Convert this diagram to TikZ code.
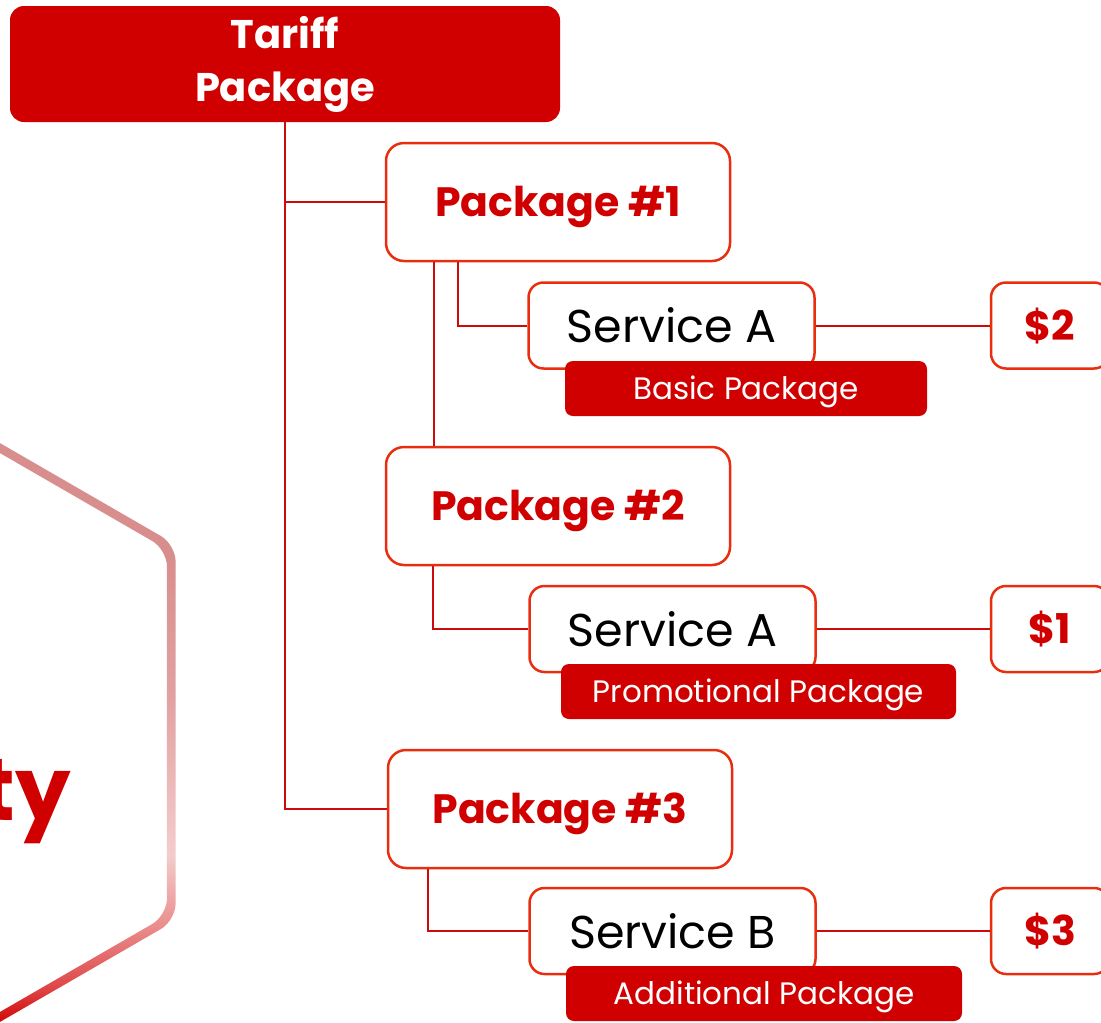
\documentclass[tikz,border=0pt]{standalone}
\usepackage{fontspec}
\setmainfont{Poppins}
\usetikzlibrary{positioning, shapes.geometric}

\definecolor{tarred}{RGB}{208,0,0}
\definecolor{edgered}{RGB}{232,46,14}
\definecolor{linkred}{RGB}{204,12,12}
% colours of the hexagon outline, bottom to top
\definecolor{hexC}{RGB}{208,0,0}
\definecolor{hexD}{RGB}{222,70,70}
\definecolor{hexE}{RGB}{234,140,140}
\definecolor{hexF}{RGB}{244,204,204}
\definecolor{hexG}{RGB}{226,162,162}
\definecolor{hexH}{RGB}{217,142,142}
\pgfdeclareverticalshading{hexshade}{100bp}{color(0bp)=(hexC); color(25.5bp)=(hexC); color(28.7bp)=(hexD); color(33.8bp)=(hexE); color(39.8bp)=(hexF); color(52.7bp)=(hexG); color(64.7bp)=(hexH); color(100bp)=(hexH)}

\begin{document}
\begin{tikzpicture}[
    x=1pt, y=-1pt,
    main/.style={rectangle, rounded corners=14pt, fill=tarred, text=white,
                 font=\fontsize{40}{53}\selectfont\bfseries,
                 minimum width=550pt, minimum height=116pt, align=center},
    package/.style={rectangle, rounded corners=18pt, draw=edgered, line width=2.5pt, fill=white,
                 text=tarred, font=\fontsize{41}{48}\selectfont\bfseries,
                 text height=30pt, text depth=1pt,
                 minimum width=344pt, minimum height=118pt},
    service/.style={rectangle, rounded corners=15pt, draw=edgered, line width=2.5pt, fill=white,
                 font=\fontsize{46}{50}\selectfont, minimum width=286pt, minimum height=86pt},
    tag/.style={rectangle, rounded corners=8pt, fill=tarred, text=white,
                 font=\fontsize{31}{34}\selectfont, text height=23pt, text depth=1pt,
                 minimum height=55pt},
    price/.style={rectangle, rounded corners=15pt, draw=edgered, line width=2.5pt, fill=white,
                 text=tarred, font=\fontsize{41}{48}\selectfont\bfseries,
                 text height=30pt, text depth=1pt,
                 minimum width=118pt, minimum height=86pt},
    link/.style={draw=linkred, line width=2pt}
]
\useasboundingbox (0,0) rectangle (1101,1023);

% --- Hexagon in the background ---
\begin{scope}[shift={(-150,732.5)}, even odd rule]
  \clip[rounded corners=17pt]
    (90:376) -- (30:376) -- (-30:376) -- (-90:376)
      -- (-150:376) -- (150:376) -- cycle
    (90:366) -- (30:366) -- (-30:366) -- (-90:366)
      -- (-150:366) -- (150:366) -- cycle;
  \shade[shading=hexshade] (150,-300) rectangle (350,300);
\end{scope}
\node[anchor=base east, inner sep=0pt, text=tarred, font=\fontsize{88}{90}\selectfont\bfseries] (word) at (71,820) {ty};

% --- Nodes ---
\node[main] (tariff) at (285,64) {\raisebox{-2pt}{Tariff}\\\raisebox{-2pt}{Package}};

\node[package] (pack1) at (558,202) {Package \#1};
\node[package] (pack2) at (558,506) {Package \#2};
\node[package] (pack3) at (560,809) {Package \#3};

\node[service] (servA1) at (671.5,325.5) {Service A};
\node[service] (servA2) at (672.5,629) {Service A};
\node[service] (servB) at (672.5,931) {Service B};

\node[tag, minimum width=362pt] (basic) at (746,388.5) {Basic Package};
\node[tag, minimum width=395pt] (promo) at (758.5,691.5) {Promotional Package};
\node[tag, minimum width=396pt] (extra) at (764,993.5) {Additional Package};

\node[price] (cost2) at (1050,325.5) {\$2};
\node[price] (cost1) at (1050,629) {\$1};
\node[price] (cost3) at (1050,931) {\$3};

% --- Connectors ---
\draw[link] (tariff.south) |- (pack1.west);
\draw[link] (tariff.south) |- (pack3.west);

\draw[link] ([xshift=-124pt]pack1.south) -- ([xshift=-124pt]pack2.north);
\draw[link] ([xshift=-100pt]pack1.south) |- (servA1.west);
\draw[link] ([xshift=-125pt]pack2.south) |- (servA2.west);
\draw[link] ([xshift=-132pt]pack3.south) |- (servB.west);

\draw[link] (servA1.east) -- (cost2.west);
\draw[link] (servA2.east) -- (cost1.west);
\draw[link] (servB.east) -- (cost3.west);

\end{tikzpicture}
\end{document}
